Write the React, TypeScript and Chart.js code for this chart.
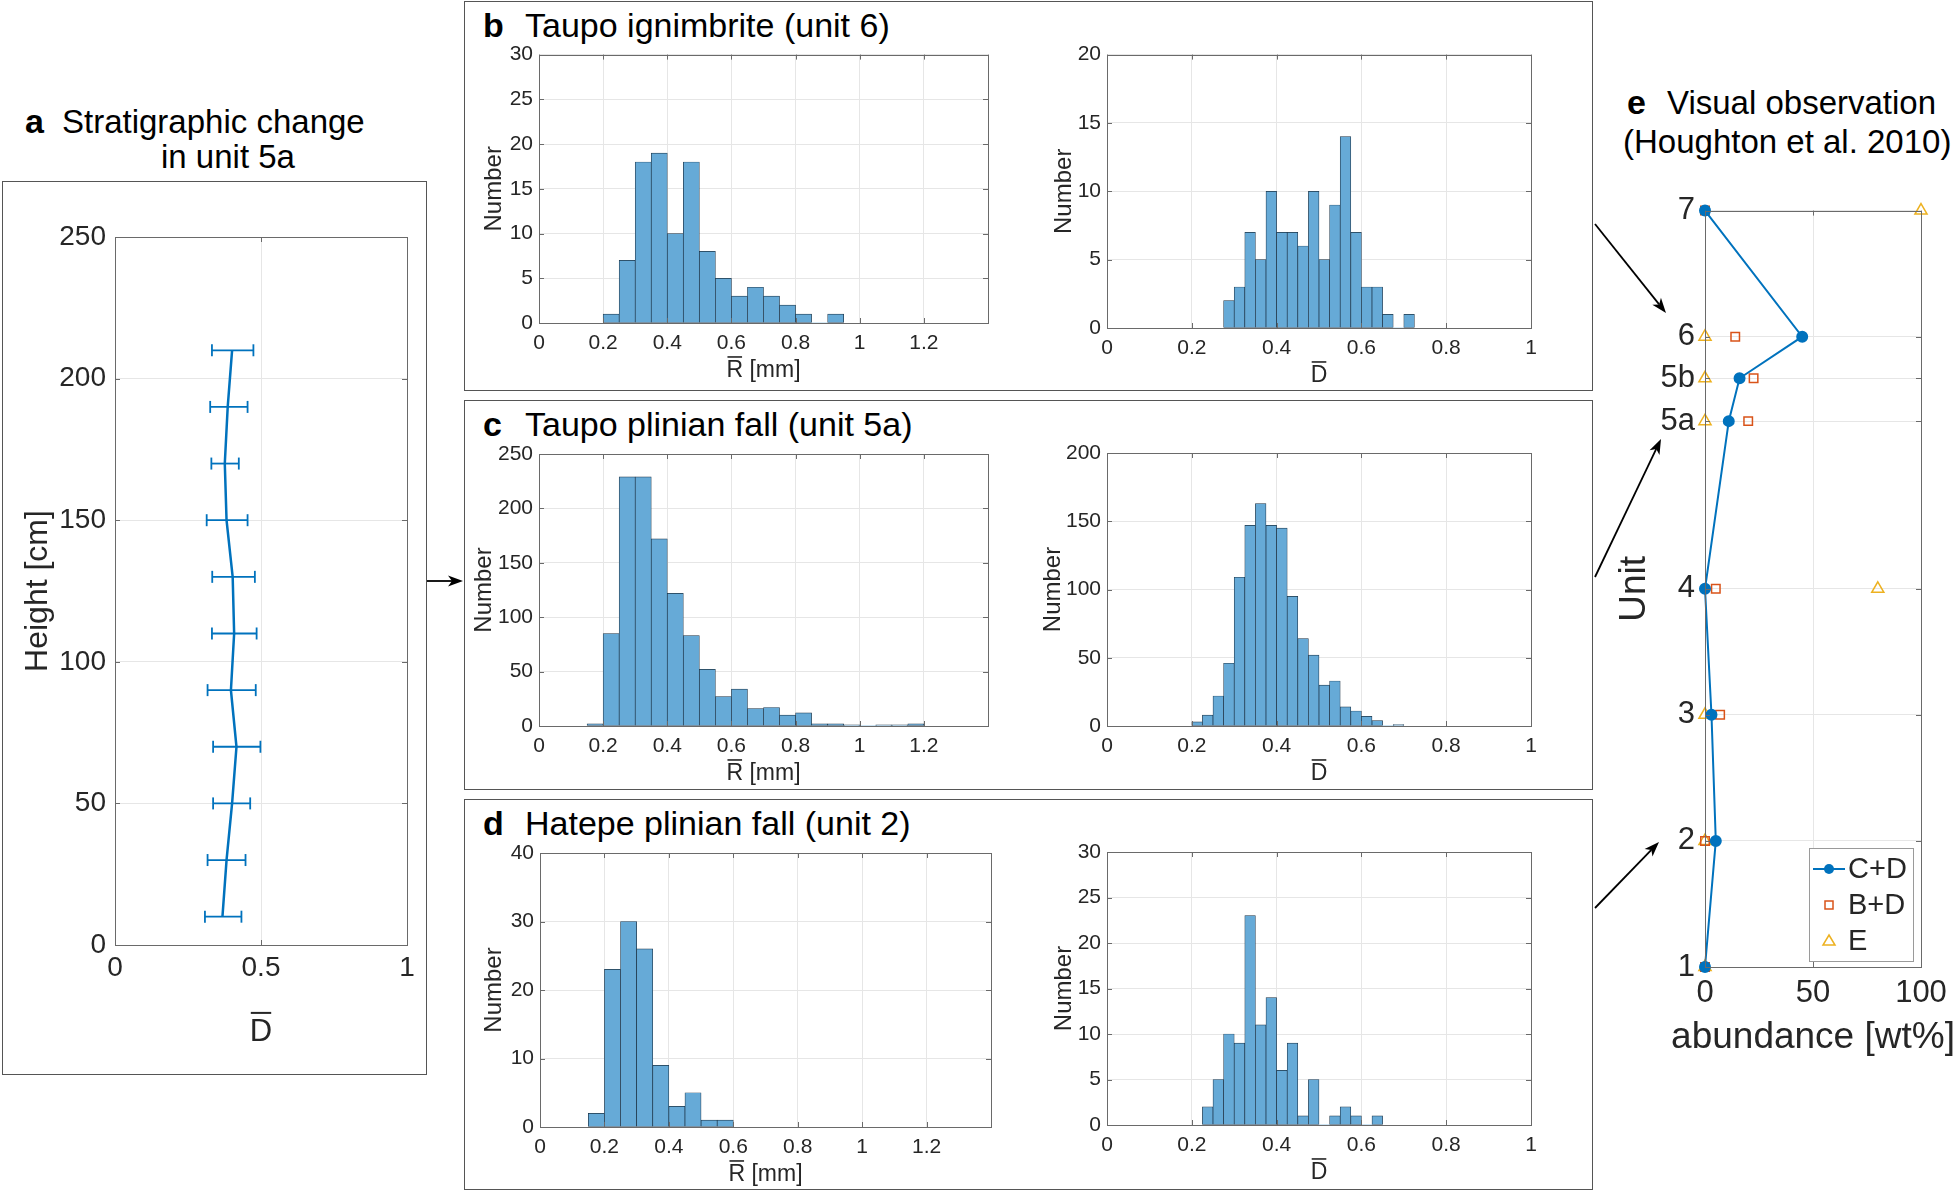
import React, { useEffect, useRef } from 'react';
import { Chart, registerables } from 'chart.js';

Chart.register(...registerables);

const FONT = "'Liberation Sans', Arial, Helvetica, sans-serif";
Chart.defaults.font.family = FONT;

// ---------------- data ----------------
// histogram bin widths
const R_BIN = 0.05;
const D_BIN = 0.025;

// b: Taupo ignimbrite (unit 6)
const B_R_START = 0.2;
const B_R_COUNTS = [1, 7, 18, 19, 10, 18, 8, 5, 3, 4, 3, 2, 1, 0, 1];
const B_D_START = 0.275;
const B_D_COUNTS = [2, 3, 7, 5, 10, 7, 7, 6, 10, 5, 9, 14, 7, 3, 3, 1, 0, 1];

// c: Taupo plinian fall (unit 5a)
const C_R_START = 0.15;
const C_R_COUNTS = [2, 85, 229, 229, 172, 122, 83, 52, 27, 34, 16, 17, 10, 12, 2, 2, 1, 0, 1, 1, 2];
const C_D_START = 0.2;
const C_D_COUNTS = [3, 8, 22, 46, 109, 147, 163, 147, 145, 95, 64, 52, 30, 33, 14, 11, 7, 4, 0, 1];

// d: Hatepe plinian fall (unit 2)
const D_R_START = 0.15;
const D_R_COUNTS = [2, 23, 30, 26, 9, 3, 5, 1, 1];
const D_D_START = 0.225;
const D_D_COUNTS = [2, 5, 10, 9, 23, 11, 14, 6, 9, 1, 5, 0, 1, 2, 1, 0, 1];

// a: stratigraphic change in unit 5a
const A_HEIGHT = [10, 30, 50, 70, 90, 110, 130, 150, 170, 190, 210];
const A_MEAN = [0.368, 0.382, 0.401, 0.416, 0.397, 0.408, 0.403, 0.382, 0.376, 0.386, 0.401];
const A_LOW = [0.308, 0.317, 0.336, 0.336, 0.317, 0.332, 0.333, 0.314, 0.33, 0.326, 0.332];
const A_HIGH = [0.433, 0.447, 0.463, 0.498, 0.482, 0.485, 0.479, 0.454, 0.424, 0.454, 0.474];

// e: visual observation (Houghton et al. 2010)
const E_UNIT_LABELS = ['1', '2', '3', '4', '5a', '5b', '6', '7'];
const E_UNIT_POS = [1, 2, 3, 4, 5.33, 5.67, 6, 7];
const E_CD = [0, 5, 3, 0, 11, 16, 45, 0];
const E_BD = [0, 0, 7, 5, 20, 22.5, 14, 0];
const E_E = [0, 0, 0, 80, 0, 0, 0, 100];

// ---------------- styles ----------------
const TXT = '#262626';
const AXIS = '#6a6a6a';
const GRID = '#e6e6e6';
const BLUE = '#0072BD';
const ORANGE = '#D95319';
const YELLOW = '#EDB120';
const BAR_FILL = 'rgb(102,170,215)';
const BAR_EDGE = '#1d3447';

const fmt = (v: number) => String(Math.round(v * 100) / 100);

// frame (box) + inward tick marks, MATLAB style
const framePlugin = {
  id: 'frame',
  afterDraw(chart: any) {
    const { ctx, chartArea } = chart;
    const { left, top, right, bottom } = chartArea;
    const xs = chart.scales.x;
    const ys = chart.scales.y;
    ctx.save();
    ctx.strokeStyle = AXIS;
    ctx.lineWidth = 1;
    const tl = 5;
    ctx.beginPath();
    xs.ticks.forEach((t: any) => {
      const p = Math.round(xs.getPixelForValue(t.value)) + 0.5;
      ctx.moveTo(p, bottom);
      ctx.lineTo(p, bottom - tl);
      ctx.moveTo(p, top);
      ctx.lineTo(p, top + tl);
    });
    ys.ticks.forEach((t: any) => {
      const p = Math.round(ys.getPixelForValue(t.value)) + 0.5;
      ctx.moveTo(left, p);
      ctx.lineTo(left + tl, p);
      ctx.moveTo(right, p);
      ctx.lineTo(right - tl, p);
    });
    ctx.stroke();
    ctx.strokeRect(Math.round(left) + 0.5, Math.round(top) + 0.5, Math.round(right - left), Math.round(bottom - top));
    ctx.restore();
  },
};

// x-axis title centred under the plot area, optionally with an overline over its first letter
const xTitlePlugin = {
  id: 'xTitle',
  afterDraw(chart: any, _args: any, opts: any) {
    if (!opts || !opts.text) return;
    const { ctx, chartArea } = chart;
    ctx.save();
    ctx.font = `${opts.size}px ${FONT}`;
    ctx.fillStyle = TXT;
    ctx.textBaseline = 'alphabetic';
    ctx.textAlign = 'left';
    const w = ctx.measureText(opts.text).width;
    const x0 = (chartArea.left + chartArea.right) / 2 - w / 2;
    const cap = opts.size * 0.716;
    const base = chartArea.bottom + opts.offset + cap / 2;
    ctx.fillText(opts.text, x0, base);
    if (opts.overline) {
      const w1 = ctx.measureText(opts.text.charAt(0)).width;
      ctx.fillRect(x0 + 1, base - cap - opts.gap - opts.lw, w1 - 2, opts.lw);
    }
    ctx.restore();
  },
};

// legend inside panel e
const eLegendPlugin = {
  id: 'eLegend',
  afterDraw(chart: any) {
    const { ctx, chartArea } = chart;
    const bw = 104;
    const bh = 113;
    const bx = chartArea.right - 8 - bw;
    const by = chartArea.bottom - 6 - bh;
    ctx.save();
    ctx.fillStyle = '#fff';
    ctx.fillRect(bx, by, bw, bh);
    ctx.strokeStyle = '#9a9a9a';
    ctx.lineWidth = 1;
    ctx.strokeRect(Math.round(bx) + 0.5, Math.round(by) + 0.5, bw, bh);
    ctx.font = `29px ${FONT}`;
    ctx.textBaseline = 'middle';
    ctx.textAlign = 'left';
    chart.data.datasets.forEach((ds: any, i: number) => {
      const cy = by + 21 + i * 36;
      const mx = bx + 20;
      ctx.lineWidth = 1.5;
      if (i === 0) {
        ctx.strokeStyle = ds.borderColor;
        ctx.lineWidth = 2;
        ctx.beginPath();
        ctx.moveTo(bx + 4, cy);
        ctx.lineTo(bx + 36, cy);
        ctx.stroke();
        ctx.fillStyle = ds.borderColor;
        ctx.beginPath();
        ctx.arc(mx, cy, 5, 0, Math.PI * 2);
        ctx.fill();
      } else if (i === 1) {
        ctx.strokeStyle = ds.pointBorderColor;
        ctx.strokeRect(mx - 4, cy - 4, 8, 8);
      } else {
        ctx.strokeStyle = ds.pointBorderColor;
        ctx.beginPath();
        ctx.moveTo(mx, cy - 6);
        ctx.lineTo(mx + 6, cy + 4);
        ctx.lineTo(mx - 6, cy + 4);
        ctx.closePath();
        ctx.stroke();
      }
      ctx.fillStyle = TXT;
      ctx.fillText(ds.label, bx + 39, cy + 1);
    });
    ctx.restore();
  },
};

// ---------------- layout (page pixels) ----------------
type HistCfg = {
  key: string;
  start: number;
  counts: number[];
  bin: number;
  xmax: number;
  ymax: number;
  ystep: number;
  xlabel: string;
  area: number[];
  canvas: number[];
  ytitleX: number;
};

const HISTS: HistCfg[] = [
  { key: 'bR', start: B_R_START, counts: B_R_COUNTS, bin: R_BIN, xmax: 1.4, ymax: 30, ystep: 5, xlabel: 'R [mm]', area: [539, 50, 988, 323], canvas: [466, 36, 1002, 390], ytitleX: 494 },
  { key: 'bD', start: B_D_START, counts: B_D_COUNTS, bin: D_BIN, xmax: 1, ymax: 20, ystep: 5, xlabel: 'D', area: [1107, 54, 1531, 328], canvas: [1010, 36, 1580, 390], ytitleX: 1064 },
  { key: 'cR', start: C_R_START, counts: C_R_COUNTS, bin: R_BIN, xmax: 1.4, ymax: 250, ystep: 50, xlabel: 'R [mm]', area: [539, 454, 988, 726], canvas: [466, 404, 1002, 789], ytitleX: 484 },
  { key: 'cD', start: C_D_START, counts: C_D_COUNTS, bin: D_BIN, xmax: 1, ymax: 200, ystep: 50, xlabel: 'D', area: [1107, 453, 1531, 726], canvas: [1010, 404, 1580, 789], ytitleX: 1053 },
  { key: 'dR', start: D_R_START, counts: D_R_COUNTS, bin: R_BIN, xmax: 1.4, ymax: 40, ystep: 10, xlabel: 'R [mm]', area: [540, 853, 991, 1127], canvas: [466, 803, 1005, 1188], ytitleX: 494 },
  { key: 'dD', start: D_D_START, counts: D_D_COUNTS, bin: D_BIN, xmax: 1, ymax: 30, ystep: 5, xlabel: 'D', area: [1107, 852, 1531, 1125], canvas: [1010, 803, 1580, 1188], ytitleX: 1064 },
];

function Hist({ cfg }: { cfg: HistCfg }) {
  const ref = useRef<HTMLCanvasElement>(null);
  const [cl, ct, cr, cb] = cfg.canvas;
  const [al, at, ar, ab] = cfg.area;
  useEffect(() => {
    const data = cfg.counts.map((c, i) => ({ x: cfg.start + (i + 0.5) * cfg.bin, y: c }));
    const chart = new Chart(ref.current as HTMLCanvasElement, {
      type: 'bar',
      data: {
        datasets: [
          {
            data,
            backgroundColor: BAR_FILL,
            borderColor: BAR_EDGE,
            borderWidth: (c: any) => (c.raw && c.raw.y > 0 ? 0.7 : 0),
            borderSkipped: false,
            barPercentage: 1,
            categoryPercentage: 1,
          } as any,
        ],
      },
      options: {
        responsive: false,
        animation: false,
        layout: { padding: { left: 0, top: at - ct, right: cr - ar, bottom: 0 } },
        plugins: {
          legend: { display: false },
          tooltip: { enabled: false },
          xTitle: { text: cfg.xlabel, size: 23, offset: 46, gap: 3, lw: 1.6, overline: true },
        } as any,
        scales: {
          x: {
            type: 'linear',
            min: 0,
            max: cfg.xmax,
            offset: false,
            afterFit: (s: any) => {
              s.height = cb - ab;
            },
            grid: { color: GRID, drawTicks: false, offset: false },
            border: { display: false },
            ticks: {
              stepSize: 0.2,
              autoSkip: false,
              maxRotation: 0,
              padding: 8,
              color: TXT,
              font: { size: 21 },
              callback: (v: any) => (v > 1.3 ? '' : fmt(Number(v))),
            },
          },
          y: {
            min: 0,
            max: cfg.ymax,
            afterFit: (s: any) => {
              s.width = al - cl;
            },
            grid: { color: GRID, drawTicks: false },
            border: { display: false },
            ticks: { stepSize: cfg.ystep, padding: 6, color: TXT, font: { size: 21 } },
            title: {
              display: true,
              text: 'Number',
              color: TXT,
              font: { size: 24 },
              padding: { top: cfg.ytitleX - cl - 14.4, bottom: 0 },
            },
          },
        } as any,
      },
      plugins: [framePlugin, xTitlePlugin],
    } as any);
    return () => chart.destroy();
  }, []);
  return (
    <canvas
      ref={ref}
      width={cr - cl}
      height={cb - ct}
      style={{ position: 'absolute', left: cl, top: ct, width: cr - cl, height: cb - ct }}
    />
  );
}

function PanelA() {
  const ref = useRef<HTMLCanvasElement>(null);
  const [cl, ct, cr, cb] = [4, 186, 425, 1072];
  const [al, at, ar, ab] = [115, 237, 407, 945];
  useEffect(() => {
    const main = {
      data: A_HEIGHT.map((h, i) => ({ x: A_MEAN[i], y: h })),
      showLine: true,
      borderColor: BLUE,
      borderWidth: 2.5,
      pointRadius: 0,
    };
    const bars = A_HEIGHT.map((h, i) => ({
      data: [
        { x: A_LOW[i], y: h },
        { x: A_HIGH[i], y: h },
      ],
      showLine: true,
      borderColor: BLUE,
      borderWidth: 1.8,
      pointStyle: 'line',
      rotation: 90,
      pointRadius: 6,
      pointBorderColor: BLUE,
      pointBorderWidth: 1.8,
    }));
    const chart = new Chart(ref.current as HTMLCanvasElement, {
      type: 'scatter',
      data: { datasets: [main, ...bars] },
      options: {
        responsive: false,
        animation: false,
        layout: { padding: { left: 0, top: at - ct, right: cr - ar, bottom: 0 } },
        plugins: {
          legend: { display: false },
          tooltip: { enabled: false },
          xTitle: { text: 'D', size: 31, offset: 85, gap: 5, lw: 2, overline: true },
        } as any,
        scales: {
          x: {
            type: 'linear',
            min: 0,
            max: 1,
            afterFit: (s: any) => {
              s.height = cb - ab;
            },
            grid: { color: GRID, drawTicks: false },
            border: { display: false },
            ticks: { stepSize: 0.5, padding: 6, color: TXT, font: { size: 28 }, callback: (v: any) => fmt(Number(v)) },
          },
          y: {
            min: 0,
            max: 250,
            afterFit: (s: any) => {
              s.width = al - cl;
            },
            grid: { color: GRID, drawTicks: false },
            border: { display: false },
            ticks: { stepSize: 50, padding: 9, color: TXT, font: { size: 28 } },
            title: {
              display: true,
              text: 'Height [cm]',
              color: TXT,
              font: { size: 32 },
              padding: { top: 38 - cl - 19.2, bottom: 0 },
            },
          },
        } as any,
      },
      plugins: [framePlugin, xTitlePlugin],
    } as any);
    return () => chart.destroy();
  }, []);
  return (
    <canvas
      ref={ref}
      width={cr - cl}
      height={cb - ct}
      style={{ position: 'absolute', left: cl, top: ct, width: cr - cl, height: cb - ct }}
    />
  );
}

function PanelE() {
  const ref = useRef<HTMLCanvasElement>(null);
  const [cl, ct, cr, cb] = [1600, 182, 1956, 1070];
  const [al, at, ar, ab] = [1705, 210, 1921, 967];
  useEffect(() => {
    const chart = new Chart(ref.current as HTMLCanvasElement, {
      type: 'scatter',
      data: {
        datasets: [
          {
            label: 'C+D',
            data: E_UNIT_POS.map((p, i) => ({ x: E_CD[i], y: p })),
            showLine: true,
            borderColor: BLUE,
            borderWidth: 2,
            pointStyle: 'circle',
            pointRadius: 5,
            pointBackgroundColor: BLUE,
            pointBorderColor: BLUE,
            clip: false,
          },
          {
            label: 'B+D',
            data: E_UNIT_POS.map((p, i) => ({ x: E_BD[i], y: p })),
            showLine: false,
            pointStyle: 'rect',
            pointRadius: 6,
            pointBackgroundColor: 'rgba(0,0,0,0)',
            pointBorderColor: ORANGE,
            pointBorderWidth: 1.5,
            clip: false,
          },
          {
            label: 'E',
            data: E_UNIT_POS.map((p, i) => ({ x: E_E[i], y: p })),
            showLine: false,
            pointStyle: 'triangle',
            pointRadius: 7,
            pointBackgroundColor: 'rgba(0,0,0,0)',
            pointBorderColor: YELLOW,
            pointBorderWidth: 1.5,
            clip: false,
          },
        ],
      },
      options: {
        responsive: false,
        animation: false,
        layout: { padding: { left: 0, top: at - ct, right: cr - ar, bottom: 0 } },
        plugins: {
          legend: { display: false },
          tooltip: { enabled: false },
          xTitle: { text: 'abundance [wt%]', size: 37, offset: 1035 - ab, overline: false },
        } as any,
        scales: {
          x: {
            type: 'linear',
            min: 0,
            max: 100,
            afterFit: (s: any) => {
              s.height = cb - ab;
            },
            grid: { color: GRID, drawTicks: false },
            border: { display: false },
            ticks: { stepSize: 50, padding: 8, color: TXT, font: { size: 31 } },
          },
          y: {
            type: 'linear',
            min: 1,
            max: 7,
            afterBuildTicks: (s: any) => {
              s.ticks = E_UNIT_POS.map((v) => ({ value: v }));
            },
            afterFit: (s: any) => {
              s.width = al - cl;
            },
            grid: { color: GRID, drawTicks: false },
            border: { display: false },
            ticks: {
              autoSkip: false,
              padding: 10,
              color: TXT,
              font: { size: 31 },
              callback: (_v: any, i: number) => E_UNIT_LABELS[i],
            },
            title: {
              display: true,
              text: 'Unit',
              color: TXT,
              font: { size: 37 },
              padding: { top: 1634.5 - cl - 22.2, bottom: 0 },
            },
          },
        } as any,
      },
      plugins: [framePlugin, eLegendPlugin, xTitlePlugin],
    } as any);
    return () => chart.destroy();
  }, []);
  return (
    <canvas
      ref={ref}
      width={cr - cl}
      height={cb - ct}
      style={{ position: 'absolute', left: cl, top: ct, width: cr - cl, height: cb - ct }}
    />
  );
}

function Txt({ x, cy, size, bold, children }: any) {
  return (
    <div
      style={{
        position: 'absolute',
        left: x,
        top: cy - size / 2,
        fontSize: size,
        lineHeight: `${size}px`,
        fontWeight: bold ? 'bold' : 'normal',
        whiteSpace: 'nowrap',
        color: '#000',
        fontFamily: FONT,
      }}
    >
      {children}
    </div>
  );
}

const boxStyle = (l: number, t: number, r: number, b: number): React.CSSProperties => ({
  position: 'absolute',
  left: l,
  top: t,
  width: r - l,
  height: b - t,
  border: '1.5px solid #555',
  boxSizing: 'border-box',
});

const ARROWS = [
  [427, 581, 463, 581],
  [1595, 224, 1666, 313],
  [1595, 577, 1661, 439],
  [1595, 908, 1659, 842],
];

function arrowParts(x1: number, y1: number, x2: number, y2: number) {
  const L = 15;
  const W = 5.5;
  const notch = 4;
  const dx = x2 - x1;
  const dy = y2 - y1;
  const len = Math.hypot(dx, dy);
  const ux = dx / len;
  const uy = dy / len;
  const nx = -uy;
  const ny = ux;
  const bx = x2 - ux * L;
  const by = y2 - uy * L;
  const kx = x2 - ux * (L - notch);
  const ky = y2 - uy * (L - notch);
  const pts = [
    [x2, y2],
    [bx + nx * W, by + ny * W],
    [kx, ky],
    [bx - nx * W, by - ny * W],
  ];
  return { line: [x1, y1, kx, ky], poly: pts.map((p) => p.join(',')).join(' ') };
}

export default function App() {
  useEffect(() => {
    document.body.style.margin = '0';
  }, []);
  return (
    <div
      style={{
        position: 'absolute',
        left: 0,
        top: 0,
        width: 1958,
        height: 1191,
        background: '#fff',
        overflow: 'hidden',
        fontFamily: FONT,
      }}
    >
      <div style={boxStyle(2, 181, 427, 1075)} />
      <div style={boxStyle(464, 1, 1593, 391)} />
      <div style={boxStyle(464, 400, 1593, 790)} />
      <div style={boxStyle(464, 799, 1593, 1190)} />

      <Txt x={25} cy={121} size={34} bold>a</Txt>
      <Txt x={62} cy={121} size={33}>Stratigraphic change</Txt>
      <Txt x={161} cy={156} size={33}>in unit 5a</Txt>

      <Txt x={483} cy={25} size={34} bold>b</Txt>
      <Txt x={525} cy={25} size={34}>Taupo ignimbrite (unit 6)</Txt>
      <Txt x={483} cy={424} size={34} bold>c</Txt>
      <Txt x={525} cy={424} size={34}>Taupo plinian fall (unit 5a)</Txt>
      <Txt x={483} cy={823} size={34} bold>d</Txt>
      <Txt x={525} cy={823} size={34}>Hatepe plinian fall (unit 2)</Txt>

      <Txt x={1627} cy={102} size={34} bold>e</Txt>
      <Txt x={1667} cy={102} size={33}>Visual observation</Txt>
      <Txt x={1623} cy={141} size={33}>(Houghton et al. 2010)</Txt>

      <PanelA />
      {HISTS.map((h) => (
        <Hist key={h.key} cfg={h} />
      ))}
      <PanelE />

      <svg
        width={1958}
        height={1191}
        style={{ position: 'absolute', left: 0, top: 0, pointerEvents: 'none' }}
      >
        {ARROWS.map((a, i) => {
          const p = arrowParts(a[0], a[1], a[2], a[3]);
          return (
            <g key={i}>
              <line x1={p.line[0]} y1={p.line[1]} x2={p.line[2]} y2={p.line[3]} stroke="#000" strokeWidth={1.8} />
              <polygon points={p.poly} fill="#000" />
            </g>
          );
        })}
      </svg>
    </div>
  );
}
